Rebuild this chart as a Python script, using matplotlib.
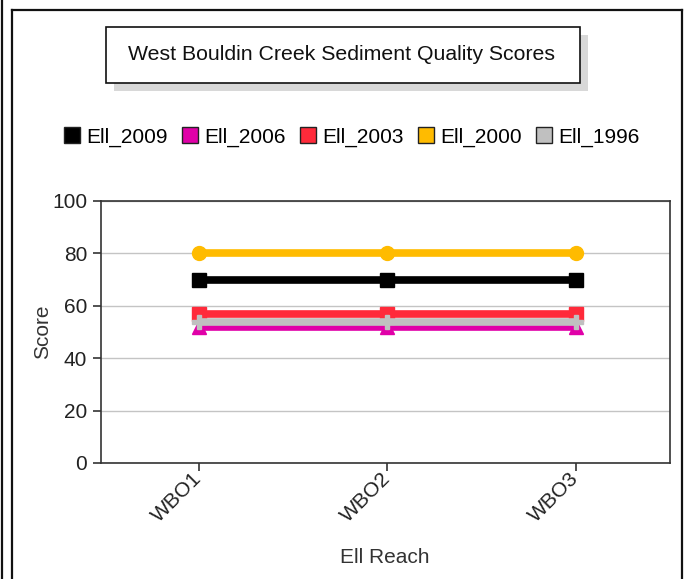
import matplotlib
matplotlib.use("Agg")
import matplotlib.pyplot as plt
import matplotlib.transforms as mtransforms
from matplotlib.patches import Rectangle, Patch
from matplotlib.lines import Line2D

plt.rcParams['font.family'] = ['Liberation Sans', 'DejaVu Sans']

# Data
reaches = ['WBO1', 'WBO2', 'WBO3']
series_names = ['Ell_2009', 'Ell_2006', 'Ell_2003', 'Ell_2000', 'Ell_1996']
ell_2009 = [70, 70, 70]
ell_2006 = [52, 52, 52]
ell_2003 = [57, 57, 57]
ell_2000 = [80, 80, 80]
ell_1996 = [54, 54, 54]
colors = ['#000000', '#e000a8', '#ff2a3a', '#ffbb00', '#c0c0c0']
markers = ['s', '^', 's', 'o', 'P']
values = [ell_2009, ell_2006, ell_2003, ell_2000, ell_1996]

W, H = 685, 579
fig = plt.figure(figsize=(W / 100, H / 100), dpi=100)


def fx(px):
    return px / W


def fy(py):
    return 1 - py / H


# outer frame lines
frame = dict(color='#111111', lw=1.6, transform=fig.transFigure)
fig.add_artist(Line2D([fx(2), fx(2)], [0, 1], **frame))
fig.add_artist(Line2D([fx(11.5), fx(11.5)], [0, fy(9.5)], **frame))
fig.add_artist(Line2D([fx(11.5), fx(682)], [fy(9.5), fy(9.5)], **frame))
fig.add_artist(Line2D([fx(682), fx(682)], [0, fy(9.5)], **frame))

# title box with shadow
fig.add_artist(Rectangle((fx(114), fy(91)), fx(580 - 106), (83 - 27) / H,
                         transform=fig.transFigure, facecolor='#d8d8d8',
                         edgecolor='none'))
fig.add_artist(Rectangle((fx(106), fy(83)), fx(580 - 106), (83 - 27) / H,
                         transform=fig.transFigure, facecolor='white',
                         edgecolor='#111111', lw=1.2))
fig.text(fx(341), fy(54), 'West Bouldin Creek Sediment Quality Scores',
         ha='center', va='center', fontsize=15.3, color='#111111')

ax = fig.add_axes([fx(101), fy(463), fx(670 - 101), (463 - 201) / H])
x = list(range(len(reaches)))
for name, vals, c, m in zip(series_names, values, colors, markers):
    ax.plot(x, vals, color=c, lw=5.5, marker=m, markersize=10,
            markeredgecolor=c, solid_capstyle='butt', label=name)

ax.set_xlim(-0.52, 2.5)
ax.set_ylim(0, 100)
ax.set_yticks([0, 20, 40, 60, 80, 100])
ax.set_xticks(x)
ax.set_xticklabels([])
# rotated category labels, placed just left of each tick
shift = mtransforms.ScaledTranslation(-7 / 100, -6 / 100, fig.dpi_scale_trans)
for xi, lab in zip(x, reaches):
    ax.text(xi, 0, lab, rotation=45, ha='right', va='top',
            rotation_mode='anchor', fontsize=15, color='#222222',
            transform=ax.get_xaxis_transform() + shift)
ax.yaxis.grid(True, color='#c4c4c4', lw=1)
ax.set_axisbelow(True)
for sp in ax.spines.values():
    sp.set_color('#333333')
    sp.set_linewidth(1.2)
ax.tick_params(axis='both', length=6, width=1.2, color='#333333',
               labelsize=15, labelcolor='#222222', pad=4)
ax.set_xlabel('Ell Reach', fontsize=15, color='#333333')
ax.xaxis.set_label_coords((385 - 101) / 569, (463 - 548) / 262)
ax.set_ylabel('Score', fontsize=15, color='#333333', labelpad=0)

handles = [Patch(facecolor=c, edgecolor='#222222', lw=1) for c in colors]
fig.legend(handles, series_names, loc='center',
           bbox_to_anchor=(fx(352), fy(137)), ncol=5, frameon=False,
           fontsize=15, handlelength=0.75, handleheight=0.75,
           handletextpad=0.3, columnspacing=0.7)

fig.savefig('out.png', dpi=100)
